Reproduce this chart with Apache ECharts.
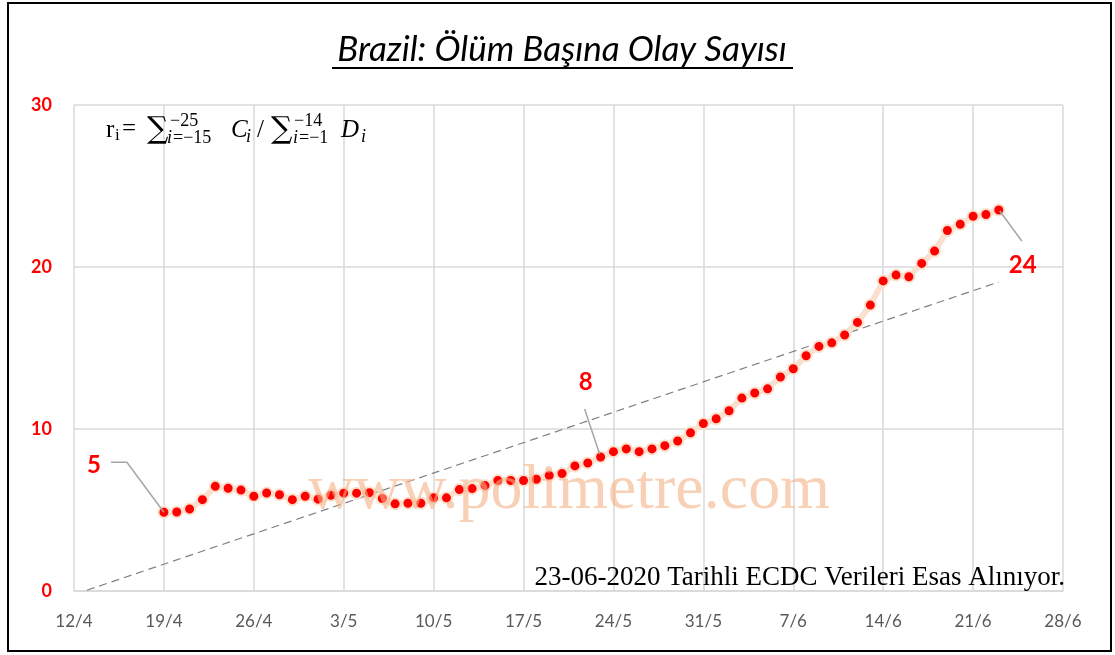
<!DOCTYPE html>
<html>
<head>
<meta charset="utf-8">
<script src="https://cdn.jsdelivr.net/npm/echarts@6/dist/echarts.min.js"></script>
<style>
  html, body { margin: 0; padding: 0; background: #fff; }
  #chart { width: 1115px; height: 655px; }
</style>
</head>
<body>
<div id="chart"></div>
<script>
// ---------------- DATA ----------------
const axisStartDate = '2020-04-12';
const xTickLabels = ['12/4','19/4','26/4','3/5','10/5','17/5','24/5','31/5','7/6','14/6','21/6','28/6'];
const yTickValues = [0, 10, 20, 30];

const dates = [
  '2020-04-19','2020-04-20','2020-04-21','2020-04-22','2020-04-23','2020-04-24','2020-04-25','2020-04-26','2020-04-27','2020-04-28','2020-04-29','2020-04-30',
  '2020-05-01','2020-05-02','2020-05-03','2020-05-04','2020-05-05','2020-05-06','2020-05-07','2020-05-08','2020-05-09','2020-05-10','2020-05-11','2020-05-12',
  '2020-05-13','2020-05-14','2020-05-15','2020-05-16','2020-05-17','2020-05-18','2020-05-19','2020-05-20','2020-05-21','2020-05-22','2020-05-23',
  '2020-05-24','2020-05-25','2020-05-26','2020-05-27','2020-05-28','2020-05-29','2020-05-30','2020-05-31',
  '2020-06-01','2020-06-02','2020-06-03','2020-06-04','2020-06-05','2020-06-06','2020-06-07','2020-06-08','2020-06-09','2020-06-10','2020-06-11','2020-06-12','2020-06-13',
  '2020-06-14','2020-06-15','2020-06-16','2020-06-17','2020-06-18','2020-06-19','2020-06-20','2020-06-21','2020-06-22','2020-06-23'
];
const ratios = [
  4.86,4.88,5.06,5.64,6.46,6.34,6.23,5.85,6.05,5.94,5.64,5.85,
  5.67,5.91,6.04,6.04,6.07,5.71,5.38,5.42,5.42,5.75,5.75,6.26,
  6.32,6.51,6.82,6.82,6.82,6.90,7.13,7.25,7.72,7.90,8.27,
  8.60,8.77,8.60,8.77,8.97,9.26,9.77,10.34,
  10.63,11.13,11.91,12.22,12.48,13.21,13.72,14.52,15.10,15.32,15.80,16.58,17.65,
  19.14,19.50,19.40,20.22,20.98,22.25,22.64,23.13,23.24,23.52
];
// dates whose value is labelled
const labelledDates = ['2020-04-19', '2020-05-23', '2020-06-23'];
const trendBackwardDays = 6;

const titleText = 'Brazil: Ölüm Başına Olay Sayısı';
const sourceText = '23-06-2020 Tarihli ECDC Verileri Esas Alınıyor.';
const watermarkText = 'www.polimetre.com';

// ---------------- HELPERS ----------------
const DAY = 86400000;
function dayOffset(d) { return Math.round((Date.parse(d) - Date.parse(axisStartDate)) / DAY); }

const points = dates.map((d, i) => [dayOffset(d), ratios[i]]);

// linear (least squares) trend line, extended backwards like the original
const n = points.length;
let sx = 0, sy = 0, sxx = 0, sxy = 0;
points.forEach(p => { sx += p[0]; sy += p[1]; sxx += p[0] * p[0]; sxy += p[0] * p[1]; });
const slope = (n * sxy - sx * sy) / (n * sxx - sx * sx);
const intercept = (sy - slope * sx) / n;
const tx0 = points[0][0] - trendBackwardDays, tx1 = points[n - 1][0];
const trendData = [[tx0, intercept + slope * tx0], [tx1, intercept + slope * tx1]];

// label styling per labelled point (offsets in px)
const labelStyles = [
  { offset: [-70, -47], leader: [[0, 0], [-37, -50], [-53, -50]] },
  { offset: [-15, -75], leader: [[-1, -3], [-16, -48]] },
  { offset: [24, 55],  leader: [[1, 1], [23, 31]] }
];

const seriesData = points.map((p, i) => {
  const li = labelledDates.indexOf(dates[i]);
  if (li < 0) return p;
  return {
    value: p,
    label: {
      show: true,
      offset: labelStyles[li].offset,
      position: 'inside',
      formatter: (prm) => String(Math.round(prm.value[1])),
      color: '#FF0000',
      fontFamily: 'Lato',
      fontWeight: 'bold',
      fontSize: 24
    }
  };
});

const chart = echarts.init(document.getElementById('chart'), null, { renderer: 'canvas' });

const option = {
  backgroundColor: '#ffffff',
  animation: false,
  grid: { left: 74, right: 52, top: 105, bottom: 64, containLabel: false },
  xAxis: {
    type: 'value',
    min: 0,
    max: (xTickLabels.length - 1) * 7,
    interval: 7,
    axisLine: { show: true, lineStyle: { color: '#D9D9D9', width: 1.5 } },
    axisTick: { show: false },
    splitLine: { show: true, lineStyle: { color: '#D9D9D9', width: 1.5 } },
    axisLabel: {
      margin: 22,
      color: '#595959',
      fontFamily: 'Lato',
      fontSize: 17,
      formatter: (v) => xTickLabels[Math.round(v / 7)] || ''
    }
  },
  yAxis: {
    type: 'value',
    min: yTickValues[0],
    max: yTickValues[yTickValues.length - 1],
    interval: yTickValues[1] - yTickValues[0],
    axisLine: { show: false },
    axisTick: { show: false },
    splitLine: { show: true, lineStyle: { color: '#D9D9D9', width: 1.5 } },
    axisLabel: {
      margin: 22,
      color: '#FF0000',
      fontFamily: 'Lato',
      fontWeight: 'bold',
      fontSize: 18
    }
  },
  series: [
    {
      name: 'trend',
      type: 'line',
      data: trendData,
      symbol: 'none',
      silent: true,
      z: 2,
      lineStyle: { color: '#808080', width: 1.2, type: [8, 5] }
    },
    {
      name: 'ratio',
      type: 'line',
      data: seriesData,
      symbol: 'circle',
      symbolSize: 11,
      z: 3,
      itemStyle: { color: '#FF0000', borderColor: '#FBE0CE', borderWidth: 2 },
      lineStyle: { color: '#FBE0CE', width: 6 },
      label: { show: false }
    }
  ]
};
chart.setOption(option);

// ---------------- ANNOTATIONS ----------------
const graphics = [];

// outer frame
graphics.push({
  type: 'rect', z: 200, silent: true,
  shape: { x: 8, y: 3, width: 1103, height: 648 },
  style: { fill: 'none', stroke: '#000', lineWidth: 2 }
});

// title with underline
graphics.push({
  type: 'text', z: 100, x: 562, y: 50,
  style: { text: titleText, fontFamily: 'Lato', fontStyle: 'italic', fontSize: 35,
           fill: '#000', align: 'center', verticalAlign: 'middle' }
});
graphics.push({
  type: 'line', z: 100,
  shape: { x1: 332, y1: 68, x2: 793, y2: 68 },
  style: { stroke: '#000', lineWidth: 2 }
});

// formula
const serif = 'Liberation Serif';
function t(txt, x, yMid, size, italic, family) {
  return { type: 'text', z: 100, x: x, y: yMid,
    style: { text: txt, fontFamily: family || serif, fontStyle: italic ? 'italic' : 'normal',
             fontSize: size, fill: '#000', align: 'left', verticalAlign: 'middle' } };
}
graphics.push(t('r', 106, 130, 25, false));
graphics.push(t('i', 115, 136, 17, false));
graphics.push(t('=', 122, 129, 25, false));
graphics.push(t('\u2211', 147, 130, 30, false, 'DejaVu Serif'));
graphics.push(t('\u221225', 170, 121, 18, false));
graphics.push(t('i', 167, 138, 18, true));
graphics.push(t('=\u221215', 173, 138, 18, false));
graphics.push(t('C', 231, 130, 25, true));
graphics.push(t('i', 246, 137, 18, true));
graphics.push(t('/', 257, 130, 25, false));
graphics.push(t('\u2211', 271, 130, 30, false, 'DejaVu Serif'));
graphics.push(t('\u221214', 294, 121, 18, false));
graphics.push(t('i', 293, 138, 18, true));
graphics.push(t('=\u22121', 299, 138, 18, false));
graphics.push(t('D', 341, 130, 25, true));
graphics.push(t('i', 361, 137, 18, true));

// source note
graphics.push({
  type: 'text', z: 100, x: 1065, y: 578,
  style: { text: sourceText, fontFamily: serif, fontSize: 27, fill: '#000',
           align: 'right', verticalAlign: 'middle' }
});

// watermark
graphics.push({
  type: 'text', z: 150, silent: true, x: 308, y: 491,
  style: { text: watermarkText, fontFamily: serif, fontSize: 64, fill: '#F4B183',
           opacity: 0.6, align: 'left', verticalAlign: 'middle' }
});

// leader lines from labelled points
labelledDates.forEach((d, li) => {
  const idx = dates.indexOf(d);
  const px = chart.convertToPixel({ gridIndex: 0 }, points[idx]);
  const pts = labelStyles[li].leader.map(o => [px[0] + o[0], px[1] + o[1]]);
  graphics.push({
    type: 'polyline', z: 4,
    shape: { points: pts },
    style: { stroke: '#A6A6A6', lineWidth: 1.5, fill: 'none' }
  });
});

chart.setOption({ graphic: graphics });
</script>
</body>
</html>
